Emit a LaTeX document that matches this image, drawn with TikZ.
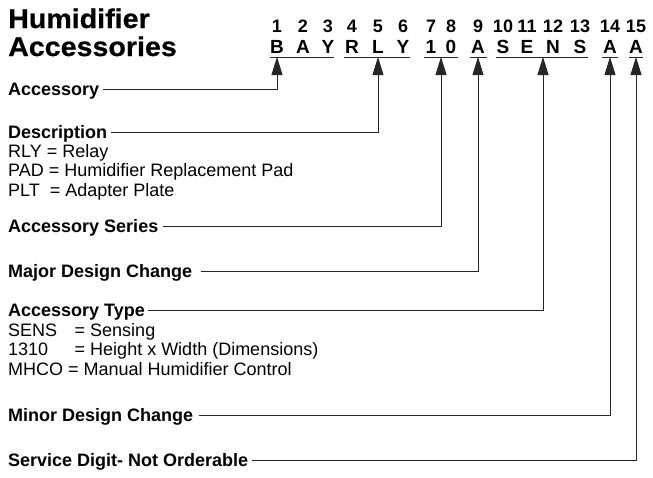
\documentclass[tikz,border=0pt]{standalone}
\usepackage{fontspec}
\setmainfont{Liberation Sans}
\newfontfamily\headfont{Liberation Sans}[FakeStretch=1.06, FakeBold=0.6]
\usetikzlibrary{positioning, arrows.meta}
\tikzset{heading/.style={font=\headfont\bfseries\fontsize{27}{28}\selectfont, inner sep=0pt, anchor=base west},
         digit/.style={font=\bfseries\fontsize{18}{18}\selectfont, inner sep=0pt, anchor=base},
         letter/.style={font=\bfseries\fontsize{19}{19}\selectfont, inner sep=0pt, anchor=base},
         field/.style={font=\bfseries\fontsize{18}{19.5}\selectfont, inner sep=0pt, anchor=west,
                       text height=12.9pt, text depth=0pt},
         values/.style={font=\fontsize{18}{19.5}\selectfont, inner sep=0pt, anchor=north west, align=left},
         link/.style={draw=black!85, line width=0.9pt},
         >={Triangle[length=18pt, width=11pt]}}

\begin{document}
\begin{tikzpicture}[x=1pt, y=-1pt]
    \useasboundingbox (0,0) rectangle (653,477);

    % heading
    \node[heading] (head1) at (8,28) {Humidifier};
    \node[heading] (head2) at (8,56) {Accessories};

    % model number: digit positions and code letters
    \foreach \x/\d/\c [count=\i] in {277/1/B, 303/2/A, 328/3/Y, 352/4/R, 378/5/L, 403/6/Y,
                                      431/7/1, 451/8/0, 478/9/A, 503/10/S, 527/11/E, 553/12/N,
                                      580/13/S, 610/14/A, 636/15/A} {
        \node[digit] (d\i) at (\x,32) {\d};
        \node[letter] (c\i) at (\x,53) {\c};
    }
    \foreach \a/\b in {270/334, 344/410, 424/458, 470/487, 496/588, 602/618, 629/643}
        \draw[link] (\a,57) -- (\b,57);

    % arrow targets under the groups
    \coordinate (t1) at (277,57);
    \coordinate (t2) at (378,57);
    \coordinate (t3) at (441,57);
    \coordinate (t4) at (478,57);
    \coordinate (t5) at (543,57);
    \coordinate (t6) at (610,57);
    \coordinate (t7) at (636,57);

    % fields
    \node[field] (acc) at (8,89.5) {Accessory};
    \node[field] (desc) at (8,132) {Description};
    \node[values] (desclist) at (8,144) {RLY = Relay\\PAD = Humidifier Replacement Pad\\PLT\ \ = Adapter Plate};
    \node[field] (series) at (8,226) {Accessory Series};
    \node[field] (major) at (8,271) {Major Design Change};
    \node[field] (type) at (8,310) {Accessory Type};
    \node[values] (typelist) at (8,323) {SENS\hspace{17.5pt}= Sensing\\1310\hspace{26.5pt}= Height x Width (Dimensions)\\MHCO = Manual Humidifier Control};
    \node[field] (minor) at (8,415) {Minor Design Change};
    \node[field] (service) at (8,460) {Service Digit- Not Orderable};

    % connectors
    \draw[link, <-] (t1) |- ([xshift=4pt]acc.east);
    \draw[link, <-] (t2) |- ([xshift=4pt]desc.east);
    \draw[link, <-] (t3) |- ([xshift=4pt]series.east);
    \draw[link, <-] (t4) |- ([xshift=9pt]major.east);
    \draw[link, <-] (t5) |- ([xshift=3pt]type.east);
    \draw[link, <-] (t6) |- ([xshift=6pt]minor.east);
    \draw[link, <-] (t7) |- ([xshift=4pt]service.east);
\end{tikzpicture}
\end{document}
